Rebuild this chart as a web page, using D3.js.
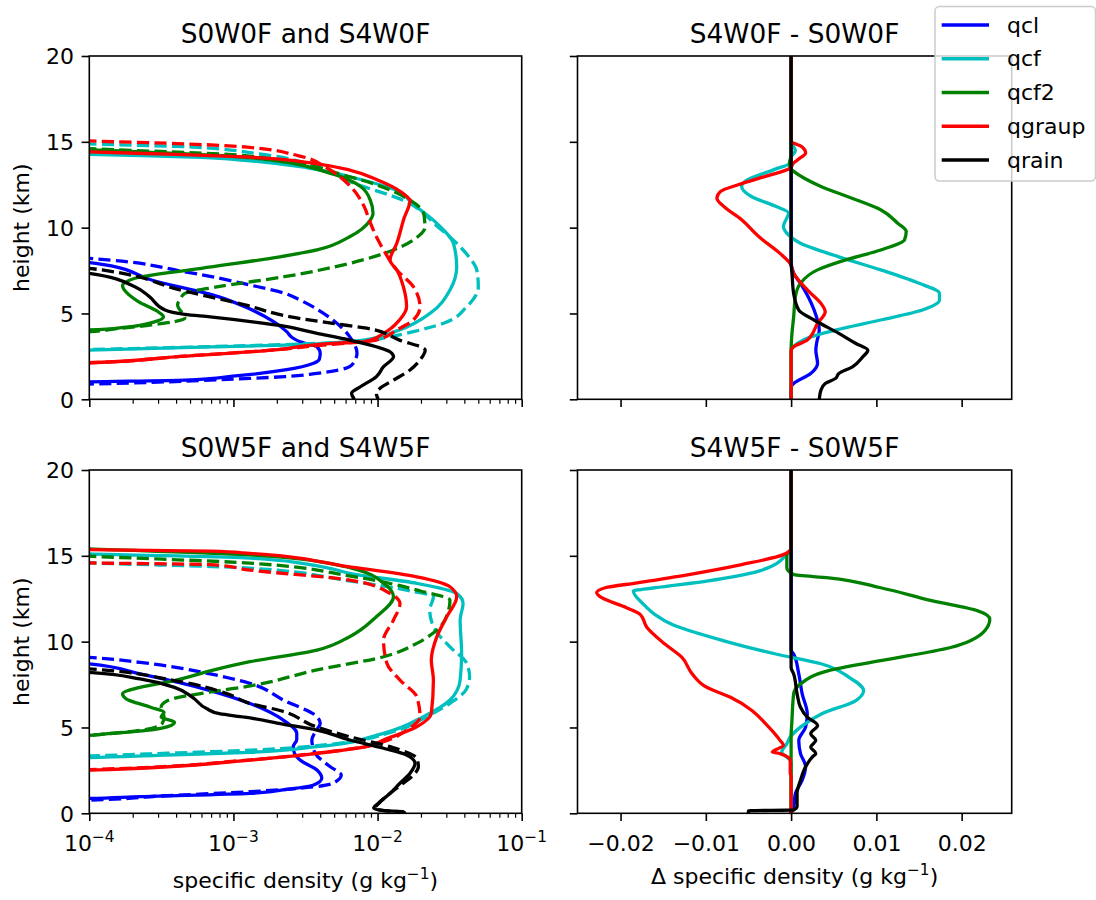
<!DOCTYPE html>
<html>
<head>
<meta charset="utf-8">
<script src="https://cdn.jsdelivr.net/npm/d3@7"></script>
<style>
  body { margin: 0; background: #fff; }
  svg { display: block; }
  text { font-family: "DejaVu Sans", sans-serif; fill: #000; }
</style>
</head>
<body>
<svg id="fig" width="1096" height="900"></svg>
<script>
// ---- categories and tick labels ----
const species = ["qcl", "qcf", "qcf2", "qgraup", "qrain"];
const speciesColors = ["#0000ff", "#00bfbf", "#008000", "#ff0000", "#000000"];
const heightTicks = [0, 5, 10, 15, 20];
const logTicks = [1e-4, 1e-3, 1e-2, 1e-1];
const diffTicks = [-0.02, -0.01, 0, 0.01, 0.02];
const panelTitles = ["S0W0F and S4W0F", "S4W0F - S0W0F", "S0W5F and S4W5F", "S4W5F - S0W5F"];

// ---- profiles: [height (km), specific density (g/kg)] ----
// S0W0F (solid)
const s0w0f_qcl = [[8.1,5e-5],[7.96,1e-4],[7.83,1.29e-4],[6.95,2.7e-4],[5.98,7.85e-4],[5.3,1.27e-3],[4.52,1.9e-3],[3.94,2.34e-3],[3.6,2.55e-3],[3.35,2.9e-3],[3.06,3.8e-3],[2.68,4.0e-3],[2.35,3.95e-3],[2.1,3.6e-3],[1.71,2.28e-3],[1.36,1.03e-3],[1.12,4.6e-4],[1.02,1e-4],[0.95,4e-5]];
const s0w0f_qcf = [[14.4,4e-5],[14.27,1e-4],[14.1,6e-4],[13.92,1.2e-3],[13.5,3.2e-3],[12.95,6.5e-3],[11.98,0.015],[11.6,0.0165],[10.25,0.0258],[9.09,0.0336],[7.72,0.0354],[6.37,0.0318],[5.0,0.0231],[4.04,0.0142],[3.45,8e-3],[3.16,2.28e-3],[3.05,7e-4],[2.87,1e-4],[2.8,4e-5]];
const s0w0f_qcf2 = [[14.7,4e-5],[14.54,1e-4],[14.1,1.2e-3],[13.1,5e-3],[12.37,7.7e-3],[11.6,8.9e-3],[10.83,9.3e-3],[10.44,8.9e-3],[9.47,6.4e-3],[8.7,3.8e-3],[8.3,2.1e-3],[7.63,6e-4],[7.05,2.07e-4],[6.6,1.7e-4],[6.37,1.75e-4],[5.69,2.19e-4],[5.1,3.0e-4],[4.81,3.27e-4],[4.5,2.8e-4],[4.2,1.8e-4],[4.04,1e-4],[3.98,4e-5]];
const s0w0f_qgraup = [[14.6,4e-5],[14.41,1e-4],[14.27,4e-4],[14.12,1.2e-3],[13.73,3.7e-3],[13.34,6.5e-3],[12.76,0.0101],[12.27,0.0134],[11.8,0.016],[11.6,0.0168],[10.5,0.0152],[9.09,0.0136],[8.11,0.0122],[7.53,0.0136],[6.56,0.0151],[5.39,0.0159],[4.62,0.0142],[3.84,0.011],[3.35,8e-3],[3.26,4.9e-3],[3.1,3.0e-3],[2.92,2.2e-3],[2.5,4.3e-4],[2.13,1e-4],[2.05,4e-5]];
const s0w0f_qrain = [[7.5,4e-5],[7.34,1e-4],[6.56,2.07e-4],[6.0,2.6e-4],[5.2,3.35e-4],[4.95,4.6e-4],[4.8,6.9e-4],[4.5,1.4e-3],[4.3,2.1e-3],[3.84,3.8e-3],[3.45,6.4e-3],[3.06,9.8e-3],[2.77,0.0122],[2.48,0.0129],[1.9,0.011],[1.32,9.8e-3],[0.73,7.6e-3],[0.35,6.6e-3],[0,6.9e-3]];
// S4W0F (dashed)
const s4w0f_qcl = [[8.35,5e-5],[8.21,1e-4],[7.43,4.6e-4],[6.66,1.3e-3],[6.17,2.28e-3],[5.78,2.9e-3],[4.62,4.9e-3],[3.65,6.4e-3],[2.68,7.2e-3],[2.3,7.0e-3],[1.9,6.4e-3],[1.51,3.8e-3],[1.32,2.28e-3],[1.22,1.3e-3],[1.0,3e-4],[0.89,1e-4],[0.82,4e-5]];
const s4w0f_qcf = [[15.0,4e-5],[14.88,1e-4],[14.7,5e-4],[14.3,1.5e-3],[13.6,3.7e-3],[12.66,6.5e-3],[11.6,0.015],[10.04,0.0263],[9.09,0.0354],[8.3,0.043],[7.53,0.0488],[6.56,0.05],[5.39,0.0415],[4.43,0.0287],[3.94,0.0177],[3.65,0.0122],[3.4,8e-3],[3.2,2.5e-3],[3.07,7e-4],[2.9,1e-4],[2.82,4e-5]];
const s4w0f_qcf2 = [[14.75,4e-5],[14.6,1e-4],[14.2,1.2e-3],[12.95,6.5e-3],[11.6,0.0168],[10.83,0.0209],[10.44,0.0212],[10.0,0.0213],[9.47,0.019],[8.7,0.0129],[7.92,6.4e-3],[7.14,2.25e-3],[6.56,7.85e-4],[6.17,4.6e-4],[5.88,4.3e-4],[5.5,4.1e-4],[4.72,4.6e-4],[4.33,2.7e-4],[4.1,1.5e-4],[3.94,1e-4],[3.88,4e-5]];
const s4w0f_qgraup = [[15.2,4e-5],[15.05,1e-4],[14.9,4e-4],[14.7,1.2e-3],[14.2,2.8e-3],[13.5,4.4e-3],[12.95,5.5e-3],[12.4,6.5e-3],[11.2,8.1e-3],[10.4,8.8e-3],[9.26,0.0101],[8.7,0.011],[7.53,0.0136],[6.56,0.0177],[5.39,0.0197],[4.62,0.0177],[4.04,0.0136],[3.45,9.8e-3],[3.3,6.5e-3],[3.1,3.5e-3],[2.92,2.2e-3],[2.5,4.3e-4],[2.13,1e-4],[2.05,4e-5]];
const s4w0f_qrain = [[7.8,4e-5],[7.63,1e-4],[6.3,4.6e-4],[5.5,1.2e-3],[4.8,2.5e-3],[4.42,4.9e-3],[4.14,8.4e-3],[3.45,0.0142],[2.87,0.0214],[2.29,0.0197],[1.71,0.0168],[1.12,0.0129],[0.64,0.0104],[0.35,9.8e-3],[0,0.0101]];
// S0W5F (solid)
const s0w5f_qcl = [[8.85,4e-5],[8.7,1e-4],[8.12,2.25e-4],[7.15,6.9e-4],[6.4,1.3e-3],[5.43,2.22e-3],[4.66,2.75e-3],[4.3,2.75e-3],[3.88,2.6e-3],[3.5,2.65e-3],[3.1,2.9e-3],[2.52,3.8e-3],[2.04,4.1e-3],[1.65,3.6e-3],[1.36,2.2e-3],[1.16,1.3e-3],[0.97,2.25e-4],[0.87,1e-4],[0.8,4e-5]];
const s0w5f_qcf = [[15.25,4e-5],[15.11,1e-4],[14.88,1.2e-3],[14.3,4.5e-3],[13.98,6.4e-3],[13.4,0.0187],[12.81,0.0354],[12.23,0.0392],[11.26,0.0374],[9.32,0.0383],[7.76,0.0374],[6.6,0.0318],[5.63,0.0208],[4.66,0.011],[3.88,3.8e-3],[3.55,1.3e-3],[3.38,3e-4],[3.25,1e-4],[3.18,4e-5]];
const s0w5f_qcf2 = [[15.55,4e-5],[15.4,1e-4],[15.07,1.2e-3],[14.3,6.5e-3],[13.33,0.0113],[12.62,0.0129],[11.45,9.8e-3],[10.29,6.4e-3],[9.51,3.8e-3],[8.83,1.3e-3],[8.31,7e-4],[7.73,3.9e-4],[7.34,2.25e-4],[6.96,1.7e-4],[6.67,1.8e-4],[6.18,2.66e-4],[5.89,3.3e-4],[5.6,3.15e-4],[5.31,3.9e-4],[5.05,3.5e-4],[4.83,2.5e-4],[4.6,1.2e-4],[4.54,1e-4],[4.48,4e-5]];
const s0w5f_qgraup = [[15.5,4e-5],[15.36,1e-4],[15.27,6.9e-4],[15.14,1.3e-3],[14.36,6.4e-3],[13.78,0.0187],[13.2,0.0318],[12.62,0.0354],[11.45,0.0302],[10.29,0.0258],[8.93,0.0236],[7.76,0.0244],[5.82,0.0236],[5.04,0.0187],[4.27,0.011],[3.88,8.4e-3],[3.49,3.8e-3],[3.1,1.3e-3],[2.51,1e-4],[2.43,4e-5]];
const s0w5f_qrain = [[8.35,4e-5],[8.21,1e-4],[7.83,2.25e-4],[7.34,3.9e-4],[6.76,5.2e-4],[6.1,6.5e-4],[5.8,8e-4],[5.6,1.2e-3],[5.2,2.2e-3],[4.85,3.8e-3],[4.27,6.4e-3],[3.79,0.011],[3.4,0.0159],[2.91,0.0182],[2.33,0.0168],[1.75,0.0143],[1.16,0.0122],[0.58,0.0101],[0.29,9.4e-3],[0.15,0.011],[0.09,0.015],[0,0.0155]];
// S4W5F (dashed)
const s4w5f_qcl = [[9.25,4e-5],[9.08,1e-4],[8.79,2.25e-4],[8.12,6.9e-4],[7.57,1.3e-3],[6.6,2.22e-3],[5.63,3.8e-3],[5.24,4.0e-3],[4.75,3.7e-3],[4.27,3.5e-3],[3.49,3.7e-3],[2.71,4.7e-3],[2.23,5.6e-3],[1.75,4.9e-3],[1.46,2.9e-3],[1.26,1.3e-3],[1.0,3e-4],[0.77,1e-4],[0.7,4e-5]];
const s4w5f_qcf = [[14.75,4e-5],[14.59,1e-4],[14.3,1.2e-3],[13.53,6.5e-3],[12.95,0.017],[12.62,0.0244],[11.84,0.023],[10.68,0.0251],[9.7,0.0318],[8.74,0.0415],[7.96,0.0435],[7.18,0.041],[6.41,0.0318],[5.63,0.0219],[4.73,0.0125],[4.0,4.5e-3],[3.7,1.5e-3],[3.5,3.5e-4],[3.35,1e-4],[3.28,4e-5]];
const s4w5f_qcf2 = [[15.15,4e-5],[14.98,1e-4],[14.59,1.2e-3],[13.82,6.5e-3],[12.95,0.0198],[12.42,0.0318],[11.8,0.031],[10.87,0.0272],[9.9,0.0187],[9.12,0.011],[8.35,3.8e-3],[7.37,1.2e-3],[7.15,8e-4],[6.57,3.5e-4],[6.18,3.15e-4],[5.6,3.3e-4],[5.22,3.2e-4],[4.83,2.25e-4],[4.6,1.2e-4],[4.54,1e-4],[4.48,4e-5]];
const s4w5f_qgraup = [[14.75,4e-5],[14.59,1e-4],[14.49,6.9e-4],[14.17,1.3e-3],[13.59,6.4e-3],[12.81,0.0122],[12.23,0.0143],[11.26,0.0129],[10.09,0.011],[8.74,0.0116],[7.76,0.0143],[6.79,0.0187],[5.63,0.0197],[4.85,0.016],[4.17,0.011],[3.88,8.2e-3],[3.49,3.7e-3],[3.1,1.25e-3],[2.55,1e-4],[2.47,4e-5]];
const s4w5f_qrain = [[8.55,4e-5],[8.41,1e-4],[7.73,3.9e-4],[6.96,9.1e-4],[6.4,1.3e-3],[5.99,2.1e-3],[5.02,3.8e-3],[4.46,6.4e-3],[3.88,0.0122],[3.2,0.0187],[2.71,0.0192],[2.23,0.0177],[1.74,0.015],[1.16,0.0122],[0.58,0.0102],[0.29,9.6e-3],[0.15,0.0112],[0.09,0.015],[0,0.0155]];

// ---- differences: [height (km), delta specific density (g/kg)] ----
const dW0F_qcl = [[20,0],[8.0,0],[7.34,3e-4],[6.76,1.1e-3],[5.2,2.7e-3],[4.03,3.3e-3],[3.3,3.0e-3],[2.86,2.9e-3],[2.08,3.1e-3],[1.5,2.3e-3],[0.92,3e-4],[0.72,0],[0,0]];
const dW0F_qcf = [[20,0],[15.0,0],[14.5,5e-4],[14.1,0],[13.77,-1e-4],[13.38,-2e-3],[12.7,-5.4e-3],[12.4,-5.8e-3],[11.8,-4.6e-3],[11.24,-1.8e-3],[10.85,-3e-4],[10.07,-9e-4],[9.68,-5e-4],[9.09,1.1e-3],[8.3,5.6e-3],[7.54,0.0105],[6.76,0.015],[6.17,0.0174],[5.78,0.0174],[5.2,0.0154],[4.62,0.0105],[4.03,5.2e-3],[3.64,2.3e-3],[3.25,7e-4],[2.96,1e-4],[2.8,0],[0,0]];
const dW0F_qcf2 = [[20,0],[14.2,0],[13.77,-2e-4],[13.4,0],[13.28,3e-4],[12.4,3.5e-3],[11.63,7.6e-3],[11.04,0.0105],[10.26,0.0125],[9.78,0.0135],[9.29,0.0133],[8.7,0.0105],[8.12,6.4e-3],[7.54,3.1e-3],[6.76,1.1e-3],[5.98,5e-4],[4.81,3e-4],[3.84,1e-4],[2.86,0],[0,0]];
const dW0F_qgraup = [[20,0],[15.05,0],[14.7,1.3e-3],[14.35,1.7e-3],[14.0,9e-4],[13.77,3e-4],[13.47,-1e-4],[12.99,-3e-3],[12.5,-6.2e-3],[12.1,-8.3e-3],[11.72,-8.7e-3],[11.24,-7.9e-3],[10.46,-5.8e-3],[9.48,-3.8e-3],[8.5,-1.3e-3],[7.9,-1e-4],[7.34,3e-4],[6.37,1.9e-3],[5.59,3.5e-3],[5.1,4e-3],[4.42,3.1e-3],[3.45,1.9e-3],[3.06,3e-4],[2.86,0],[0,0]];
const dW0F_qrain = [[20,0],[8.0,0],[7.34,1e-4],[6.17,3e-4],[5.2,9e-4],[4.62,2.7e-3],[3.84,5.6e-3],[3.25,7.6e-3],[2.86,9e-3],[2.47,8.4e-3],[1.89,7.2e-3],[1.5,5.6e-3],[1.21,5.2e-3],[0.92,4e-3],[0.53,3.5e-3],[0,3.3e-3]];
const dW5F_qcl = [[20,0],[9.5,0],[9.28,3e-4],[8.12,9e-4],[6.96,1.3e-3],[5.8,1.9e-3],[5.02,1.7e-3],[4.25,9e-4],[3.48,1.1e-3],[2.71,1.7e-3],[1.93,1.3e-3],[1.16,5e-4],[0.39,3e-4],[0,0]];
const dW5F_qcf = [[20,0],[15.4,0],[15.07,-5e-4],[14.11,-3.8e-3],[13.53,-9.9e-3],[13.14,-0.016],[12.95,-0.0185],[12.17,-0.0173],[11.59,-0.016],[11.01,-0.014],[10.05,-7.9e-3],[9.28,-1.8e-3],[8.7,3.6e-3],[7.92,6.8e-3],[7.15,8.5e-3],[6.57,7.6e-3],[5.8,3.6e-3],[5.02,1.1e-3],[4.44,-1e-4],[4.06,-5e-4],[3.57,-1.1e-3],[3.09,-1e-4],[2.9,0],[0,0]];
const dW5F_qcf2 = [[20,0],[15.4,0],[15.07,-5e-4],[14.3,-5e-4],[13.91,3e-4],[13.72,4.4e-3],[13.14,0.0105],[12.37,0.0166],[11.79,0.0219],[11.3,0.0233],[10.63,0.0227],[9.66,0.0187],[8.89,0.0105],[8.31,4.4e-3],[7.54,1.1e-3],[6.96,3e-4],[5.41,1e-4],[4.5,0],[0,0]];
const dW5F_qgraup = [[20,0],[15.45,0],[15.07,-9e-4],[14.49,-5.8e-3],[13.91,-0.012],[13.43,-0.018],[13.14,-0.0218],[12.85,-0.0228],[12.56,-0.0222],[11.98,-0.0193],[11.59,-0.0177],[10.82,-0.0169],[9.86,-0.0148],[9.08,-0.0128],[8.12,-0.0116],[7.34,-9.9e-3],[6.76,-7.1e-3],[5.99,-4.6e-3],[5.22,-3e-3],[4.25,-1.3e-3],[3.96,-9e-4],[3.57,-2.2e-3],[3.48,-1.3e-3],[3.09,-1e-4],[2.32,-1e-4],[2.2,0],[0,0]];
const dW5F_qrain = [[20,0],[8.5,0],[8.12,3e-4],[6.96,7e-4],[6.18,1.1e-3],[5.6,1.9e-3],[5.12,3.1e-3],[4.64,2.3e-3],[4.25,2.9e-3],[3.86,2.3e-3],[3.48,2.9e-3],[3.29,2.5e-3],[2.71,1.7e-3],[1.93,1.1e-3],[1.16,7e-4],[0.39,7e-4],[0.19,3e-4],[0.15,-5e-3],[0,-5e-3]];

// ---- figure layout ----
const svg = d3.select("#fig");
const FS = 22;            // tick / label font size (px)
const TITLE_FS = 26.4;
const TICK = 7.7, MINOR = 4.4, PAD = 7.7;
const LW = 3.3;           // profile line width
const colX = [{x0: 89.3, x1: 521.7}, {x0: 577.5, x1: 1011.7}];
const rowY = [{y0: 56, y1: 399.3}, {y0: 470, y1: 813.3}];

function makePanel(idx, col, row, kind, series) {
  const {x0, x1} = colX[col];
  const {y0, y1} = rowY[row];
  const g = svg.append("g");
  const y = d3.scaleLinear().domain([0, 20]).range([y1, y0]);
  const x = kind === "log"
    ? d3.scaleLog().domain([1e-4, 1e-1]).range([x0, x1])
    : d3.scaleLinear().domain([-0.02505, 0.02587]).range([x0, x1]);

  const clipId = "clip" + idx;
  svg.append("clipPath").attr("id", clipId)
    .append("rect").attr("x", x0).attr("y", y0).attr("width", x1 - x0).attr("height", y1 - y0);

  const line = d3.line().x(d => x(d[1])).y(d => y(d[0])).curve(d3.curveMonotoneY);
  const lines = g.append("g").attr("clip-path", `url(#${clipId})`);
  series.forEach(s => {
    lines.append("path").datum(s.data)
      .attr("d", line)
      .attr("fill", "none")
      .attr("stroke", s.color)
      .attr("stroke-width", LW)
      .attr("stroke-linejoin", "round")
      .attr("stroke-dasharray", s.dashed ? "12.2,5.3" : null);
  });

  // y axis
  const yAxis = g.append("g").attr("transform", `translate(${x0},0)`)
    .call(d3.axisLeft(y).tickValues(heightTicks).tickSize(TICK).tickPadding(PAD).tickFormat(d3.format("d")));
  yAxis.select(".domain").remove();
  yAxis.selectAll(".tick line").attr("stroke", "#000").attr("stroke-width", 1.6);
  yAxis.selectAll(".tick text").attr("font-size", FS).attr("dy", "0.36em")
    .style("display", col === 0 ? null : "none");

  // x axis
  const xAxisG = g.append("g").attr("transform", `translate(0,${y1})`);
  if (kind === "log") {
    const major = d3.axisBottom(x).tickValues(logTicks).tickSize(TICK).tickFormat("");
    xAxisG.call(major);
    const minorVals = [];
    logTicks.slice(0, -1).forEach(t => { for (let k = 2; k <= 9; k++) minorVals.push(t * k); });
    const minorG = g.append("g").attr("transform", `translate(0,${y1})`)
      .call(d3.axisBottom(x).tickValues(minorVals).tickSize(MINOR).tickFormat(""));
    minorG.select(".domain").remove();
    minorG.selectAll(".tick line").attr("stroke", "#000").attr("stroke-width", 1.2);
    if (row === 1) {
      logTicks.forEach(t => {
        const tx = g.append("text").attr("x", x(t)).attr("y", y1 + 38)
          .attr("text-anchor", "middle").attr("font-size", FS);
        tx.append("tspan").text("10");
        tx.append("tspan").attr("font-size", FS * 0.7).attr("dy", -9)
          .text(d3.format("d")(Math.round(Math.log10(t))));
      });
    }
  } else {
    xAxisG.call(d3.axisBottom(x).tickValues(diffTicks).tickSize(TICK).tickPadding(PAD).tickFormat(d3.format(".2f")));
    xAxisG.selectAll(".tick text").attr("font-size", FS).attr("dy", null).attr("y", 38)
      .style("display", row === 1 ? null : "none");
  }
  xAxisG.select(".domain").remove();
  xAxisG.selectAll(".tick line").attr("stroke", "#000").attr("stroke-width", 1.6);

  // frame
  g.append("rect").attr("x", x0).attr("y", y0).attr("width", x1 - x0).attr("height", y1 - y0)
    .attr("fill", "none").attr("stroke", "#000").attr("stroke-width", 1.6);

  // title
  g.append("text").attr("x", (x0 + x1) / 2).attr("y", y0 - 13.5)
    .attr("text-anchor", "middle").attr("font-size", TITLE_FS).text(panelTitles[idx]);

  // y label
  if (col === 0) {
    g.append("text").attr("transform", `translate(28.5,${(y0 + y1) / 2}) rotate(-90)`)
      .attr("text-anchor", "middle").attr("font-size", FS).text("height (km)");
  }
  // x label
  if (row === 1) {
    const lab = g.append("text").attr("x", (x0 + x1) / 2).attr("y", kind === "log" ? 888 : 884)
      .attr("text-anchor", "middle").attr("font-size", FS);
    lab.append("tspan").text(kind === "log" ? "specific density (g kg" : "\u0394 specific density (g kg");
    lab.append("tspan").attr("font-size", FS * 0.7).attr("dy", -9).text("\u22121");
    lab.append("tspan").attr("dy", 9).text(")");
  }
}

function pairSeries(solid, dashed) {
  const out = [];
  species.forEach((sp, i) => {
    out.push({data: solid[i], color: speciesColors[i], dashed: false});
    out.push({data: dashed[i], color: speciesColors[i], dashed: true});
  });
  return out;
}
function diffSeries(list) {
  return species.map((sp, i) => ({data: list[i], color: speciesColors[i], dashed: false}));
}

makePanel(0, 0, 0, "log", pairSeries(
  [s0w0f_qcl, s0w0f_qcf, s0w0f_qcf2, s0w0f_qgraup, s0w0f_qrain],
  [s4w0f_qcl, s4w0f_qcf, s4w0f_qcf2, s4w0f_qgraup, s4w0f_qrain]));
makePanel(1, 1, 0, "diff", diffSeries([dW0F_qcl, dW0F_qcf, dW0F_qcf2, dW0F_qgraup, dW0F_qrain]));
makePanel(2, 0, 1, "log", pairSeries(
  [s0w5f_qcl, s0w5f_qcf, s0w5f_qcf2, s0w5f_qgraup, s0w5f_qrain],
  [s4w5f_qcl, s4w5f_qcf, s4w5f_qcf2, s4w5f_qgraup, s4w5f_qrain]));
makePanel(3, 1, 1, "diff", diffSeries([dW5F_qcl, dW5F_qcf, dW5F_qcf2, dW5F_qgraup, dW5F_qrain]));

// ---- legend ----
const leg = svg.append("g");
leg.append("rect").attr("x", 935).attr("y", 6.5).attr("width", 160.5).attr("height", 174.5)
  .attr("rx", 4.4).attr("fill", "#fff").attr("fill-opacity", 0.8)
  .attr("stroke", "#cccccc").attr("stroke-width", 1.5);
const legRow = d3.scaleLinear().domain([0, species.length - 1]).range([25, 160]);
species.forEach((sp, i) => {
  const yy = legRow(i);
  leg.append("line").attr("x1", 941.7).attr("x2", 989).attr("y1", yy).attr("y2", yy)
    .attr("stroke", speciesColors[i]).attr("stroke-width", LW);
  leg.append("text").attr("x", 1007).attr("y", yy + 7.6).attr("font-size", FS).text(sp);
});
</script>
</body>
</html>
